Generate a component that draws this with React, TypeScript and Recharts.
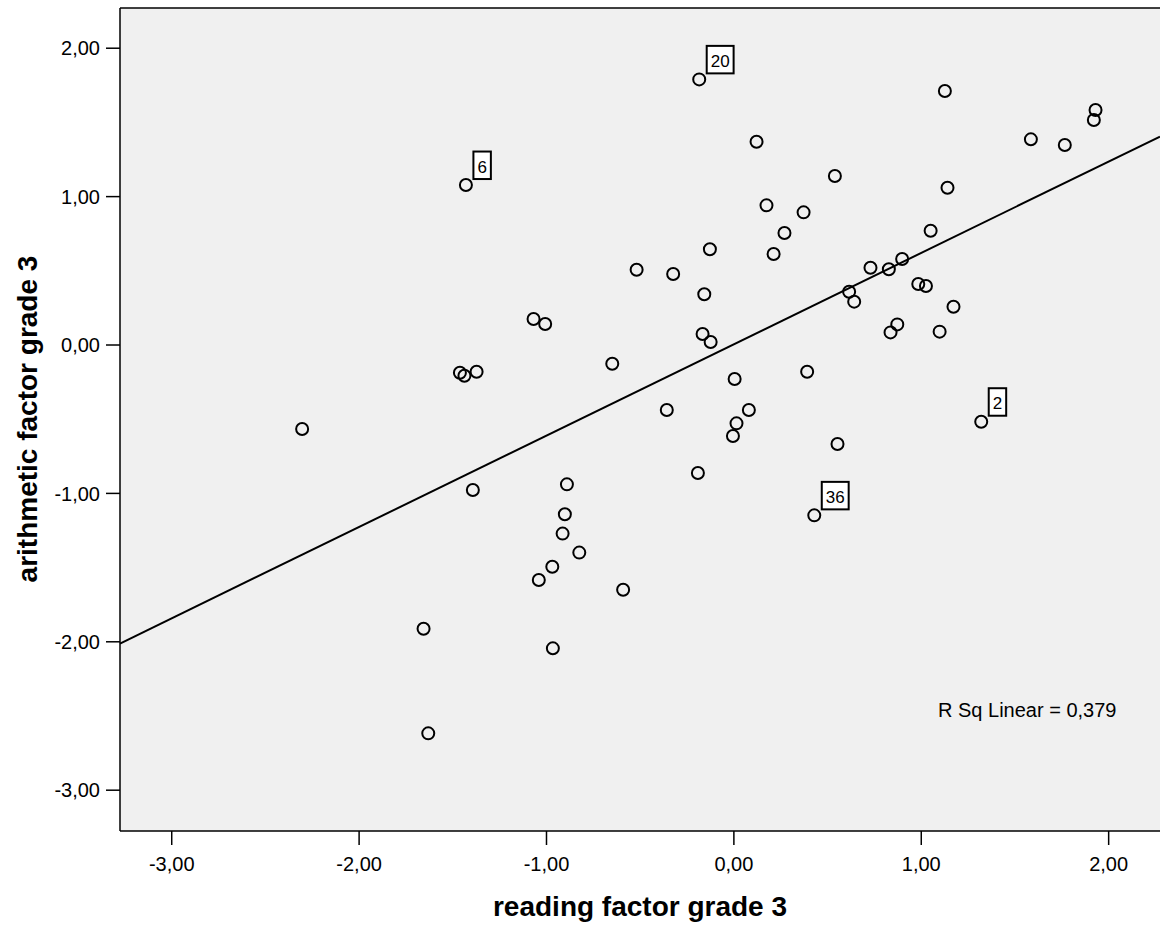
import {
  ScatterChart,
  Scatter,
  XAxis,
  YAxis,
  CartesianGrid,
  ReferenceLine,
  Customized,
} from "recharts";

// reading factor grade 3 (x) and arithmetic factor grade 3 (y), one entry per case
const readingScores = [
  -1.43, -0.185, 0.121, 0.174, 0.372, 0.27, -0.128, 0.212, -0.519, -0.324,
  1.126, 1.93, 1.921, 1.585, 1.766, 0.539, 1.14, 1.05, 0.729, 0.827,
  0.898, 0.615, 0.642, 0.984, 1.025, 1.172, 0.872, 0.836, 1.098, 1.32,
  0.553, -0.158, -1.069, -1.007, -0.167, -0.124, -1.462, -1.438, -1.373, -0.649,
  0.004, 0.391, -0.358, 0.08, 0.014, -0.005, -0.192, -1.393, -0.891, 0.429,
  -0.902, -0.914, -0.825, -2.304, -0.969, -1.041, -0.591, -0.966, -1.656, -1.631,
];

const arithmeticScores = [
  1.078, 1.79, 1.37, 0.941, 0.894, 0.755, 0.645, 0.613, 0.507, 0.478,
  1.712, 1.584, 1.516, 1.386, 1.348, 1.139, 1.06, 0.77, 0.521, 0.51,
  0.58, 0.359, 0.292, 0.411, 0.398, 0.258, 0.139, 0.085, 0.09, -0.517,
  -0.667, 0.342, 0.175, 0.142, 0.074, 0.02, -0.187, -0.207, -0.18, -0.126,
  -0.229, -0.18, -0.438, -0.438, -0.528, -0.613, -0.863, -0.977, -0.939, -1.148,
  -1.141, -1.271, -1.399, -0.566, -1.494, -1.584, -1.649, -2.044, -1.912, -2.617,
];

// case numbers shown next to the outliers ("" = no label)
const caseIds = [
  "6", "20", "", "", "", "", "", "", "", "",
  "", "", "", "", "", "", "", "", "", "",
  "", "", "", "", "", "", "", "", "", "2",
  "", "", "", "", "", "", "", "", "", "",
  "", "", "", "", "", "", "", "", "", "36",
  "", "", "", "", "", "", "", "", "", "",
];

const axisTicks = [-3, -2, -1, 0, 1, 2];

// linear fit
const FIT_SLOPE = 0.6156;
const FIT_INTERCEPT = 0.005;
const R_SQ = "0,379";

const X_MIN = -3.276;
const X_MAX = 2.274;
const Y_MIN = -3.275;
const Y_MAX = 2.271;

const FONT = "'Liberation Sans', Arial, sans-serif";

const data = readingScores.map((x, i) => ({
  x,
  y: arithmeticScores[i],
  id: caseIds[i],
}));

const fmt = (v: number) => v.toFixed(2).replace(".", ",");

const PointShape = (props: any) => {
  const { cx, cy, payload } = props;
  if (cx == null || cy == null) return null;
  const id = payload?.id;
  let box = null;
  if (id) {
    const w = id.length * 9.45 + 8;
    const h = 27.5;
    const x0 = cx + 7.5;
    const y1 = cy - 6;
    box = (
      <g>
        <rect x={x0} y={y1 - h} width={w} height={h} fill="#fff" stroke="#000" strokeWidth={2} />
        <text
          x={x0 + w / 2}
          y={y1 - 6.5}
          textAnchor="middle"
          fontSize={17}
          fontFamily={FONT}
          fill="#000"
        >
          {id}
        </text>
      </g>
    );
  }
  return (
    <g>
      <circle cx={cx} cy={cy} r={6} fill="none" stroke="#000" strokeWidth={2} />
      {box}
    </g>
  );
};

const Titles = () => (
  <g fontFamily={FONT} fill="#000">
    <text x={640} y={916} textAnchor="middle" fontSize={28} fontWeight="bold">
      reading factor grade 3
    </text>
    <text
      x={37}
      y={419}
      textAnchor="middle"
      fontSize={28}
      fontWeight="bold"
      transform="rotate(-90 37 419)"
    >
      arithmetic factor grade 3
    </text>
    <text x={938} y={717} fontSize={20}>
      R Sq Linear = {R_SQ}
    </text>
  </g>
);

export default function App() {
  return (
    <div style={{ position: "absolute", left: 0, top: 0, fontFamily: FONT, background: "#fff" }}>
      <ScatterChart
        width={1160}
        height={929}
        margin={{ top: 8, right: 0, bottom: 0, left: 0 }}
      >
        <CartesianGrid fill="#F0F0F0" horizontal={false} vertical={false} />
        <XAxis
          type="number"
          dataKey="x"
          domain={[X_MIN, X_MAX]}
          allowDataOverflow
          ticks={axisTicks}
          tickFormatter={fmt}
          height={98}
          tickSize={14}
          tickMargin={12}
          axisLine={{ stroke: "#000", strokeWidth: 1.5 }}
          tickLine={{ stroke: "#000", strokeWidth: 1.5 }}
          tick={{ fill: "#000", fontSize: 20, fontFamily: FONT }}
        />
        <YAxis
          type="number"
          dataKey="y"
          domain={[Y_MIN, Y_MAX]}
          allowDataOverflow
          ticks={axisTicks}
          tickFormatter={fmt}
          width={120}
          tickSize={14}
          tickMargin={6}
          axisLine={{ stroke: "#000", strokeWidth: 1.5 }}
          tickLine={{ stroke: "#000", strokeWidth: 1.5 }}
          tick={{ fill: "#000", fontSize: 20, fontFamily: FONT }}
        />
        <ReferenceLine y={Y_MAX} stroke="#000" strokeWidth={1.5} />
        <ReferenceLine
          segment={[
            { x: X_MIN, y: FIT_INTERCEPT + FIT_SLOPE * X_MIN },
            { x: X_MAX, y: FIT_INTERCEPT + FIT_SLOPE * X_MAX },
          ]}
          stroke="#000"
          strokeWidth={2}
        />
        <Scatter data={data} shape={<PointShape />} isAnimationActive={false} />
        <Customized component={Titles} />
      </ScatterChart>
    </div>
  );
}
